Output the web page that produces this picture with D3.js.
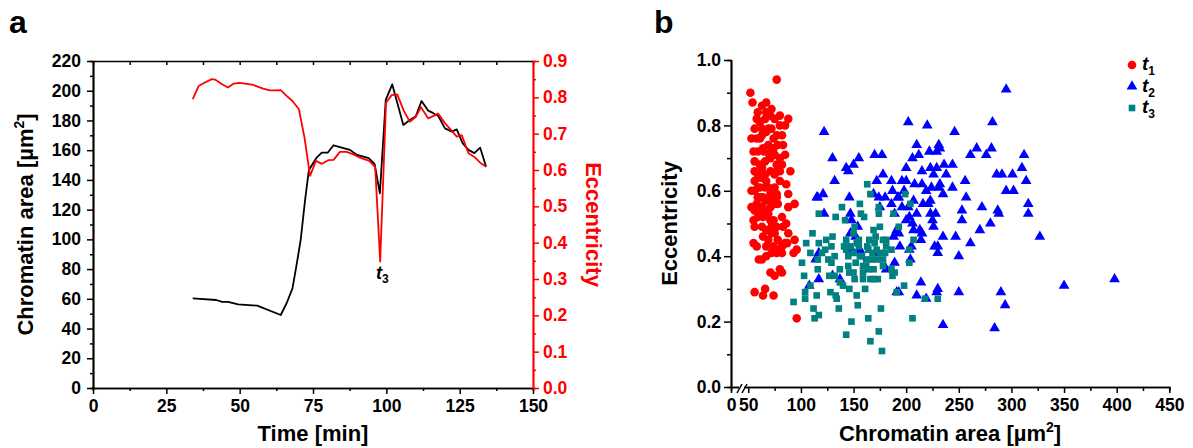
<!DOCTYPE html>
<html>
<head>
<meta charset="utf-8">
<script src="https://cdn.jsdelivr.net/npm/d3@7"></script>
<style>
body { margin: 0; background: #fff; }
svg text { font-family: Arial, 'Liberation Sans', sans-serif; font-weight: bold; }
</style>
</head>
<body>
<svg></svg>
<script>
// panel a: chromatin area (black) and eccentricity (red) over time
var areaTime = [34, 42, 44, 46, 49.5, 56, 64, 66, 68, 69.3, 70.8, 72.3, 73.6, 76.3, 78, 80, 82, 87.6, 90, 94, 96, 97.8, 99.8, 102, 105.8, 108, 110, 112, 114.3, 116, 117.7, 120, 122.3, 124, 126, 128, 130, 132, 134]
var areaValues = [60.3, 59.2, 57.9, 58, 56.3, 55.4, 49.1, 57, 67, 81.6, 99.6, 126.5, 146.7, 155.2, 158.3, 158.3, 163.3, 160.2, 156.8, 154.6, 150.7, 131, 193.8, 204.3, 177, 180.3, 182.6, 193.1, 186.6, 184.9, 183, 174.7, 172.5, 174, 164.7, 160.2, 158, 161.7, 148.9]
var eccTime = [34, 36, 38, 40.5, 41.6, 44, 46, 48, 50, 54.7, 58, 60.3, 62, 64, 66, 68, 70.2, 72.1, 74, 76, 78, 80.2, 82, 84.2, 86.5, 88.8, 91, 94.2, 96.2, 97.9, 99.9, 101.8, 103.7, 106, 108, 110, 111.8, 114.3, 117.7, 120, 124, 125.7, 128, 130, 132, 134]
var eccValues = [.795, .831, .840, .850, .849, .836, .827, .838, .840, .834, .824, .819, .819, .820, .804, .790, .767, .689, .584, .625, .617, .627, .628, .650, .650, .643, .634, .625, .608, .348, .785, .806, .808, .762, .733, .746, .773, .742, .755, .729, .692, .696, .646, .636, .620, .609]

var timeTicks = [0, 25, 50, 75, 100, 125, 150]
var areaTicks = [0, 20, 40, 60, 80, 100, 120, 140, 160, 180, 200, 220]
var eccTicks = [0, .1, .2, .3, .4, .5, .6, .7, .8, .9]

// panel b: eccentricity vs chromatin area, [area, eccentricity]
var t1Points = [[52,.90],[54,.87],[77,.94],[67,.87],[63,.86],[59,.84],[72,.85],[56,.79],[61,.81],[66,.82],[71,.83],[75,.82],[80,.83],[88,.82],[53,.76],[58,.76],[63,.77],[67,.78],[72,.79],[77,.77],[82,.77],[55,.72],[59,.72],[64,.73],[69,.74],[74,.73],[78,.74],[83,.74],[85,.71],[56,.69],[61,.68],[66,.69],[71,.70],[75,.71],[80,.70],[82,.68],[90,.66],[56,.63],[61,.64],[66,.65],[71,.66],[75,.65],[80,.63],[56,.60],[61,.61],[66,.61],[71,.59],[75,.61],[53,.60],[86,.62],[88,.59],[59,.58],[64,.58],[72,.57],[78,.56],[53,.55],[58,.56],[63,.55],[67,.54],[77,.58],[88,.55],[94,.56],[55,.51],[59,.52],[64,.52],[69,.53],[74,.51],[86,.50],[56,.49],[63,.49],[67,.48],[72,.47],[88,.47],[64,.46],[69,.45],[85,.44],[72,.41],[77,.41],[82,.41],[63,.39],[67,.40],[80,.42],[58,.43],[94,.45],[96,.42],[93,.41],[71,.35],[75,.34],[80,.36],[82,.35],[56,.29],[66,.30],[64,.28],[74,.28],[96,.21],[61,.53],[66,.53],[71,.55],[72,.49],[75,.47],[78,.45],[83,.49],[56,.54],[59,.65],[63,.67],[67,.63],[77,.68],[72,.72],[80,.80],[85,.80],[69,.79],[63,.79],[67,.84],[58,.82],[77,.66],[59,.61],[66,.57],[71,.51],[77,.49],[82,.52],[55,.44],[60,.39],[67,.43],[74,.43],[82,.43],[56,.66],[64,.64],[69,.61],[77,.59],[74,.56],[62,.58],[87,.44],[80,.66],[74,.76],[70,.71],[65,.72],[61,.76]]
var t2Points = [[122,.78],[130,.70],[132,.63],[143,.67],[145,.66],[150,.68],[155,.70],[116,.58],[122,.53],[115,.58],[121,.59],[146,.58],[147,.47],[148,.51],[152,.46],[155,.42],[154,.49],[117,.41],[114,.39],[117,.33],[108,.31],[130,.34],[137,.33],[148,.42],[156,.42],[170,.71],[177,.71],[178,.65],[172,.63],[186,.63],[187,.60],[186,.56],[192,.58],[189,.53],[193,.47],[193,.58],[189,.38],[181,.36],[191,.29],[196,.63],[200,.63],[202,.81],[200,.67],[206,.70],[210,.74],[212,.71],[208,.62],[207,.57],[210,.53],[206,.50],[200,.51],[205,.43],[203,.42],[213,.48],[214,.45],[215,.47],[220,.80],[222,.72],[215,.66],[223,.67],[215,.62],[221,.56],[223,.53],[225,.51],[224,.61],[227,.43],[230,.43],[230,.41],[229,.72],[231,.74],[232,.73],[229,.67],[231,.61],[232,.62],[235,.46],[236,.68],[238,.65],[244,.68],[244,.61],[246,.78],[247,.46],[250,.40],[253,.54],[253,.51],[256,.63],[261,.44],[261,.71],[267,.73],[270,.48],[272,.55],[276,.71],[280,.50],[282,.81],[281,.73],[286,.65],[288,.53],[287,.54],[291,.65],[295,.91],[295,.60],[301,.65],[302,.60],[310,.67],[312,.71],[314,.63],[316,.56],[316,.53],[327,.46],[350,.31],[398,.33],[214,.32],[219,.27],[210,.28],[229,.29],[230,.30],[235,.19],[250,.29],[284,.18],[290,.29],[294,.25],[193,.29],[204,.39],[216,.56],[226,.49],[219,.60],[228,.53],[223,.57],[235,.59],[191,.48],[198,.60],[207,.48],[257,.58],[147,.53],[171,.41],[169,.59],[174,.58],[175,.55],[180,.58],[188,.46],[194,.43],[196,.55],[202,.55],[203,.52],[226,.65]]
var t3Points = [[93,.26],[101,.38],[105,.44],[103,.34],[104,.29],[104,.27],[109,.31],[111,.47],[109,.41],[112,.24],[113,.21],[115,.28],[117,.44],[117,.22],[117,.53],[116,.39],[116,.36],[120,.41],[123,.42],[124,.45],[126,.39],[127,.34],[128,.29],[129,.43],[130,.46],[132,.34],[133,.28],[134,.27],[136,.24],[137,.32],[133,.52],[139,.55],[140,.31],[141,.43],[142,.51],[143,.45],[143,.42],[145,.37],[146,.30],[146,.35],[147,.43],[148,.20],[143,.16],[150,.41],[150,.47],[151,.49],[152,.38],[153,.28],[154,.25],[155,.45],[155,.43],[156,.56],[157,.53],[158,.40],[159,.37],[159,.33],[160,.52],[161,.30],[162,.37],[162,.39],[163,.43],[164,.36],[163,.62],[164,.21],[165,.45],[166,.33],[166,.59],[167,.39],[166,.14],[168,.41],[169,.36],[169,.33],[170,.44],[171,.46],[172,.39],[173,.33],[174,.53],[174,.17],[174,.55],[175,.41],[176,.24],[177,.11],[178,.39],[178,.45],[180,.41],[181,.43],[181,.45],[186,.42],[186,.36],[187,.34],[188,.53],[189,.35],[191,.29],[193,.49],[198,.31],[199,.59],[203,.38],[203,.42],[204,.56],[206,.21],[207,.45],[218,.27],[230,.27],[145,.40],[137,.36],[150,.35],[169,.48],[175,.49],[178,.37],[156,.40],[172,.42],[151,.33],[129,.38],[132,.40],[164,.42],[159,.35],[153,.44]]

var bAreaTicks = [0, 50, 100, 150, 200, 250, 300, 350, 400, 450]
var bEccTicks = [0, .2, .4, .6, .8, 1.0]
var seriesNames = ['1', '2', '3']

var width = 1193
var height = 448

var svg = d3.select('svg')
    .attr('width', width)
    .attr('height', height)

function styleAxis(g, size) {
  g.attr('font-size', size)
    .attr('font-family', null)
  g.selectAll('.domain').attr('stroke-width', 1.7)
  g.selectAll('.tick line').attr('stroke-width', 1.5)
}

// ---------- panel a ----------
var xA = d3.scaleLinear().domain([0, 150]).range([93, 533])
var yA = d3.scaleLinear().domain([0, 220]).range([388, 61])
var yE = d3.scaleLinear().domain([0, 0.9]).range([388, 61])

// minor ticks first
svg.append('g')
    .attr('transform', 'translate(0,388)')
    .call(d3.axisBottom(xA).tickValues(d3.range(12.5, 150, 25)).tickSize(3).tickFormat(''))
    .call(styleAxis, 17.5)
svg.append('g')
    .attr('transform', 'translate(0,61)')
    .call(d3.axisTop(xA).tickValues(d3.range(0, 151, 12.5)).tickSize(-4).tickFormat('').tickSizeOuter(0))
    .call(styleAxis, 17.5)
svg.append('g')
    .attr('transform', 'translate(93,0)')
    .call(d3.axisLeft(yA).tickValues(d3.range(10, 220, 20)).tickSize(3).tickFormat(''))
    .call(styleAxis, 17.5)

svg.append('g')
    .attr('transform', 'translate(0,388)')
    .call(d3.axisBottom(xA).tickValues(timeTicks).tickSize(6).tickPadding(6).tickSizeOuter(0))
    .call(styleAxis, 17.5)
svg.append('g')
    .attr('transform', 'translate(93,0)')
    .call(d3.axisLeft(yA).tickValues(areaTicks).tickSize(6).tickPadding(6).tickSizeOuter(0))
    .call(styleAxis, 17.5)

svg.append('g')
    .attr('transform', 'translate(533,0)')
    .attr('color', '#ff0000')
    .call(d3.axisRight(yE).tickValues(d3.range(0.05, 0.9, 0.1)).tickSize(3).tickFormat(''))
    .call(styleAxis, 17.5)
svg.append('g')
    .attr('transform', 'translate(533,0)')
    .attr('color', '#ff0000')
    .call(d3.axisRight(yE).tickValues(eccTicks).tickSize(6).tickPadding(4).tickSizeOuter(0).tickFormat(d3.format('.1f')))
    .call(styleAxis, 17.5)

var areaLine = d3.line()
    .x((d, i) => xA(areaTime[i]))
    .y(d => yA(d))
var eccLine = d3.line()
    .x((d, i) => xA(eccTime[i]))
    .y(d => yE(d))

svg.append('path')
    .datum(areaValues)
    .attr('d', areaLine)
    .attr('fill', 'none')
    .attr('stroke', '#000')
    .attr('stroke-width', 1.8)
    .attr('stroke-linejoin', 'round')

svg.append('path')
    .datum(eccValues)
    .attr('d', eccLine)
    .attr('fill', 'none')
    .attr('stroke', '#ff0000')
    .attr('stroke-width', 1.8)
    .attr('stroke-linejoin', 'round')

var t3Label = svg.append('text')
    .attr('x', 376)
    .attr('y', 279)
    .attr('font-size', 18)
t3Label.append('tspan').attr('font-style', 'italic').text('t')
t3Label.append('tspan').attr('font-size', 12).attr('dy', 4).text('3')

svg.append('text')
    .attr('x', xA(75))
    .attr('y', 441)
    .attr('text-anchor', 'middle')
    .attr('font-size', 22)
    .text('Time [min]')

var aTitle = svg.append('text')
    .attr('transform', 'translate(33,' + yA(110) + ') rotate(-90)')
    .attr('text-anchor', 'middle')
    .attr('font-size', 22)
aTitle.append('tspan').text('Chromatin area [µm')
aTitle.append('tspan').attr('font-size', 14).attr('dy', -9).text('2')
aTitle.append('tspan').attr('dy', 9).text(']')

svg.append('text')
    .attr('transform', 'translate(586,' + yE(0.45) + ') rotate(90)')
    .attr('text-anchor', 'middle')
    .attr('fill', '#ff0000')
    .attr('font-size', 22)
    .text('Eccentricity')

svg.append('text').attr('x', 9).attr('y', 33).attr('font-size', 32).text('a')

// ---------- panel b ----------
// x axis is broken between 0 and 50
var xB = d3.scaleLinear().domain([0, 50, 450]).range([731, 748.3, 1169.3])
var yB = d3.scaleLinear().domain([0, 1]).range([387, 60])

svg.append('g')
    .attr('transform', 'translate(0,387)')
    .call(d3.axisBottom(xB).tickValues(d3.range(75, 450, 50)).tickSize(4).tickFormat(''))
    .call(styleAxis, 17.5)
svg.append('g')
    .attr('transform', 'translate(0,387)')
    .call(d3.axisBottom(xB).tickValues(bAreaTicks).tickSize(6).tickPadding(6).tickSizeOuter(0))
    .call(styleAxis, 17.5)
svg.append('g')
    .attr('transform', 'translate(731,0)')
    .call(d3.axisLeft(yB).tickValues(d3.range(0.1, 1, 0.2)).tickSize(4).tickFormat(''))
    .call(styleAxis, 17.5)
svg.append('g')
    .attr('transform', 'translate(731,0)')
    .call(d3.axisLeft(yB).tickValues(bEccTicks).tickSize(7).tickPadding(3).tickSizeOuter(0).tickFormat(d3.format('.1f')))
    .call(styleAxis, 17.5)

// axis break marks
var brk = svg.append('g')
brk.append('rect').attr('x', 739).attr('y', 383).attr('width', 5).attr('height', 8).attr('fill', '#fff')
brk.append('line').attr('x1', 737).attr('y1', 393).attr('x2', 742).attr('y2', 384)
    .attr('stroke', '#000').attr('stroke-width', 1.5)
brk.append('line').attr('x1', 742).attr('y1', 393).attr('x2', 747).attr('y2', 384)
    .attr('stroke', '#000').attr('stroke-width', 1.5)

var markColors = ['#ff0000', '#0000ff', '#008080']
var markShapes = [d3.symbolCircle, d3.symbolTriangle, d3.symbolSquare]
var markSizes = [58, 50, 44]
var allPoints = [t1Points, t2Points, t3Points]

allPoints.forEach(function (pts, k) {
  svg.append('g')
    .selectAll('path')
    .data(pts)
    .enter()
    .append('path')
      .attr('transform', d => 'translate(' + xB(d[0]) + ',' + yB(d[1]) + ')')
      .attr('d', d3.symbol().type(markShapes[k]).size(markSizes[k]))
      .attr('fill', markColors[k])
})

// legend
var legend = svg.append('g')
seriesNames.forEach(function (name, k) {
  var ly = 65 + k * 21.5
  legend.append('path')
      .attr('transform', 'translate(1132,' + ly + ')')
      .attr('d', d3.symbol().type(markShapes[k]).size(markSizes[k]))
      .attr('fill', markColors[k])
  var lt = legend.append('text')
      .attr('x', 1142)
      .attr('y', ly + 5)
      .attr('font-size', 19)
  lt.append('tspan').attr('font-style', 'italic').text('t')
  lt.append('tspan').attr('font-size', 12).attr('dy', 5).text(name)
})

var bxTitle = svg.append('text')
    .attr('x', 950)
    .attr('y', 441)
    .attr('text-anchor', 'middle')
    .attr('font-size', 22)
bxTitle.append('tspan').text('Chromatin area [µm')
bxTitle.append('tspan').attr('font-size', 14).attr('dy', -9).text('2')
bxTitle.append('tspan').attr('dy', 9).text(']')

svg.append('text')
    .attr('transform', 'translate(677,' + yB(0.5) + ') rotate(-90)')
    .attr('text-anchor', 'middle')
    .attr('font-size', 22)
    .text('Eccentricity')

svg.append('text').attr('x', 654).attr('y', 33).attr('font-size', 32).text('b')
</script>
</body>
</html>
